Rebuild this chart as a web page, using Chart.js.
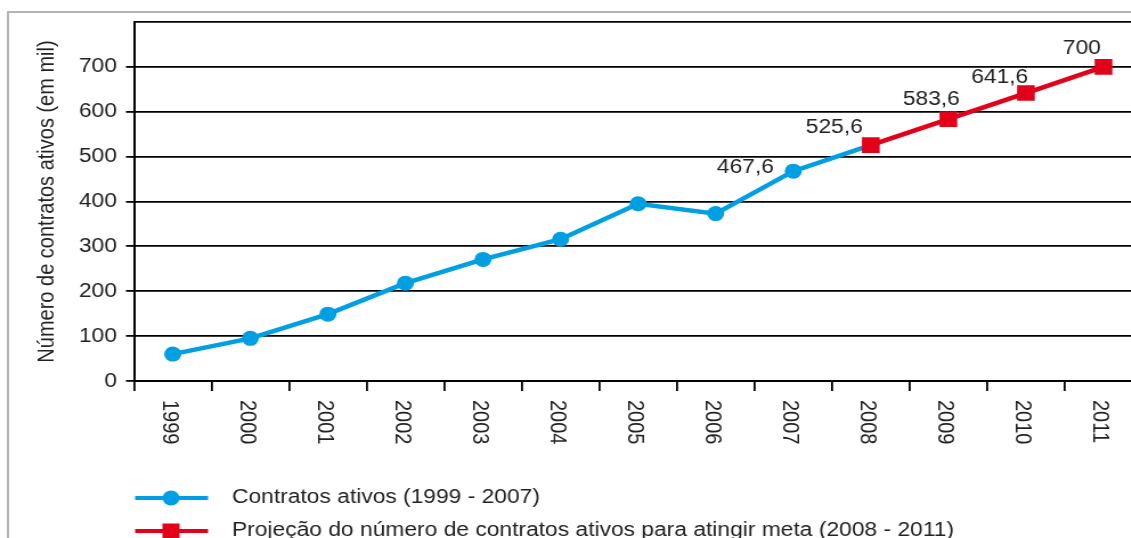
<!DOCTYPE html>
<html>
<head>
<meta charset="utf-8">
<script src="https://cdn.jsdelivr.net/npm/chart.js@4/dist/chart.umd.min.js"></script>
<style>
  html, body { margin: 0; padding: 0; background: #fff; overflow: hidden; }
  /* the chart is drawn a bit narrow and widened here */
  #grafico { display: block; transform: scaleX(1.14); transform-origin: 0 0; }
</style>
</head>
<body>
<canvas id="grafico" width="1013" height="538"></canvas>
<script>
// anos do eixo x
const anos = ["1999", "2000", "2001", "2002", "2003", "2004", "2005", "2006", "2007", "2008", "2009", "2010", "2011"];
// contratos ativos (em mil) 1999 - 2007
const contratosAtivos = [60, 95, 149, 218, 271, 316, 395, 373, 467.6];
// projecao 2008 - 2011
const projecao = [525.6, 583.6, 641.6, 700];
// ticks do eixo y
const ticksY = [0, 100, 200, 300, 400, 500, 600, 700, 800];

const AZUL = "#009fe3";
const VERMELHO = "#e2001a";
const TEXTO = "#222";
const FONTE = "'Liberation Sans', Arial, sans-serif";

// blue line runs on to the first projected point
const serieAzul = contratosAtivos.concat([projecao[0]]);
while (serieAzul.length < anos.length) serieAzul.push(null);
const serieVermelha = new Array(contratosAtivos.length).fill(null).concat(projecao);

const fmt = (v) => String(v).replace(".", ",");

// value labels: which point, and where the text sits relative to it
const rotulos = [
  { ds: 1, i: 8, dx: -42, dy: -4 },
  { ds: 0, i: 9, dx: -32, dy: -18 },
  { ds: 0, i: 10, dx: -15, dy: -20 },
  { ds: 0, i: 11, dx: -23, dy: -16 },
  { ds: 0, i: 12, dx: -19, dy: -18 },
];

const extras = {
  id: "extras",
  beforeDraw(chart) {
    const ctx = chart.ctx;
    // gray frame around the figure
    ctx.save();
    ctx.strokeStyle = "#b4b4b4";
    ctx.lineWidth = 2;
    ctx.beginPath();
    ctx.moveTo(7, 560);
    ctx.lineTo(7, 12);
    ctx.lineTo(chart.width, 12);
    ctx.stroke();
    ctx.restore();
  },
  afterDraw(chart) {
    const ctx = chart.ctx;
    const xs = chart.scales.x;
    ctx.save();
    ctx.fillStyle = TEXTO;
    ctx.font = "20px " + FONTE;

    // year labels, rotated to read downwards
    ctx.textAlign = "left";
    ctx.textBaseline = "middle";
    anos.forEach((a, i) => {
      ctx.save();
      ctx.translate(xs.getPixelForValue(i) - 3.5, 400);
      ctx.rotate(Math.PI / 2);
      ctx.fillText(a, 0, 0);
      ctx.restore();
    });

    // value labels
    ctx.textAlign = "center";
    rotulos.forEach((r) => {
      const p = chart.getDatasetMeta(r.ds).data[r.i];
      const v = chart.data.datasets[r.ds].data[r.i];
      ctx.fillText(fmt(v), p.x + r.dx, p.y + r.dy);
    });

    // legend
    const itens = [
      { y: 498, cor: AZUL, forma: "circulo", texto: "Contratos ativos (1999 - 2007)" },
      { y: 531, cor: VERMELHO, forma: "quadrado", texto: "Projeção do número de contratos ativos para atingir meta (2008 - 2011)" },
    ];
    itens.forEach((it) => {
      ctx.strokeStyle = it.cor;
      ctx.fillStyle = it.cor;
      ctx.lineWidth = 4;
      ctx.beginPath();
      ctx.moveTo(118.5, it.y);
      ctx.lineTo(182.5, it.y);
      ctx.stroke();
      ctx.beginPath();
      if (it.forma === "circulo") {
        ctx.arc(150, it.y, 7.5, 0, Math.PI * 2);
      } else {
        ctx.rect(150 - 7.5, it.y - 7.5, 15, 15);
      }
      ctx.fill();
      ctx.fillStyle = TEXTO;
      ctx.textAlign = "left";
      ctx.fillText(it.texto, 203.5, it.y - 1);
    });
    ctx.restore();
  },
};

new Chart(document.getElementById("grafico"), {
  type: "line",
  data: {
    labels: anos,
    datasets: [
      {
        label: "Projeção do número de contratos ativos para atingir meta (2008 - 2011)",
        data: serieVermelha,
        borderColor: VERMELHO,
        backgroundColor: VERMELHO,
        borderWidth: 4.5,
        pointStyle: "rect",
        pointRadius: 11,
        pointBorderWidth: 0,
        fill: false,
        spanGaps: false,
      },
      {
        label: "Contratos ativos (1999 - 2007)",
        data: serieAzul,
        borderColor: AZUL,
        backgroundColor: AZUL,
        borderWidth: 4.5,
        pointStyle: "circle",
        pointRadius: (c) => (c.dataIndex < contratosAtivos.length ? 7.5 : 0),
        pointBorderWidth: 0,
        fill: false,
      },
    ],
  },
  options: {
    responsive: false,
    animation: false,
    events: [],
    layout: { padding: { top: 22, right: 3.6, left: 0, bottom: 0 } },
    plugins: { legend: { display: false }, tooltip: { enabled: false } },
    scales: {
      x: {
        type: "category",
        offset: true,
        grid: {
          offset: true,
          drawOnChartArea: false,
          color: "#000",
          lineWidth: 1.8,
          tickLength: 10,
        },
        border: { color: "#000", width: 2 },
        ticks: { display: false },
        afterFit: (s) => { s.height = 157; },
      },
      y: {
        min: 0,
        max: 800,
        afterBuildTicks: (s) => { s.ticks = ticksY.map((v) => ({ value: v })); },
        grid: {
          color: "#000",
          lineWidth: 1.8,
          tickLength: 7,
          tickColor: (c) => (c.tick && c.tick.value === 800 ? "rgba(0,0,0,0)" : "#000"),
        },
        border: { color: "#000", width: 2 },
        ticks: {
          padding: 7.9,
          color: TEXTO,
          font: { family: FONTE, size: 20 },
          callback: (v) => (v === 800 ? "" : v),
        },
        title: {
          display: true,
          text: "Número de contratos ativos (em mil)",
          color: TEXTO,
          font: { family: FONTE, size: 20 },
          padding: { top: 29, bottom: 0 },
        },
        afterFit: (s) => { s.width = 117.5; },
      },
    },
  },
  plugins: [extras],
});
</script>
</body>
</html>
